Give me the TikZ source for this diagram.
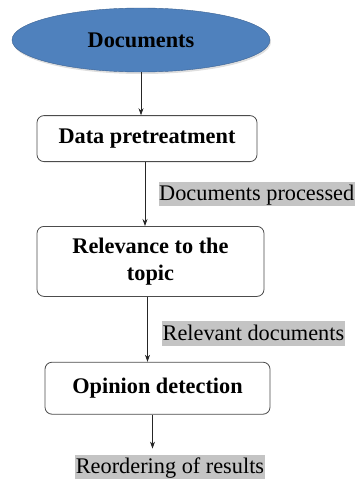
\documentclass[tikz,border=0pt]{standalone}
\usepackage{fontspec}
\setmainfont{Liberation Serif}
\usepackage{xcolor}
\usepackage{tikz}
\usetikzlibrary{positioning, calc, arrows.meta, shapes.geometric, shadows}
\definecolor{docBlue}{RGB}{79,129,189}
\definecolor{docEdge}{RGB}{60,98,146}
\definecolor{tagGray}{RGB}{196,196,196}
\newcommand{\flowsize}{\fontsize{22.3}{26.5}\selectfont}
\tikzset{
    startnode/.style={
        ellipse,
        draw=docEdge,
        fill=docBlue,
        minimum width=258pt,
        minimum height=64pt,
        font=\flowsize\rmfamily\bfseries,
        drop shadow={opacity=0.25, shadow xshift=1pt, shadow yshift=-2pt}
    },
    procnode/.style={
        rectangle,
        rounded corners=7pt,
        draw=black!70,
        line width=0.8pt,
        fill=white,
        font=\flowsize\rmfamily\bfseries,
        align=center,
        inner sep=2pt
    },
    flowtag/.style={
        fill=tagGray,
        font=\flowsize\rmfamily,
        inner xsep=0.5pt,
        inner ysep=0pt,
        text height=19pt,
        text depth=5.5pt
    },
    ptr/.style={
        -{Stealth[length=7pt, width=5pt]},
        draw=black!85,
        line width=0.7pt
    }
}

\begin{document}
\begin{tikzpicture}
    \useasboundingbox (0,0) rectangle (356pt,-479pt);
    \node[startnode] (docs) at (141pt,-40pt) {Documents};
    \node[procnode, below=43pt of docs, xshift=6pt, minimum width=220pt, minimum height=46pt] (prep) {Data pretreatment};
    \node[procnode, below=64pt of prep, xshift=3.5pt, minimum width=227pt, minimum height=70pt] (rel) {Relevance to the\\topic};
    \node[procnode, below=65pt of rel, xshift=7pt, minimum width=225pt, minimum height=52pt] (opin) {Opinion detection};
    \node[flowtag, below=40pt of opin, xshift=12.5pt] (reord) {Reordering of results};

    % fleches
    \draw[ptr] (docs.south) -- (docs.south |- prep.north);
    \draw[ptr] ([xshift=-2pt]prep.south) -- ([xshift=-2pt]prep.south |- rel.north);
    \draw[ptr] ([xshift=-3pt]rel.south) -- ([xshift=-3pt]rel.south |- opin.north);
    \draw[ptr, shorten >=6pt] ([xshift=-5pt]opin.south) -- ([xshift=-5pt]opin.south |- reord.north);

    % etiquettes
    \coordinate (m1) at ($([xshift=-2pt]prep.south)!0.5!([xshift=-2pt]prep.south |- rel.north)$);
    \coordinate (m2) at ($([xshift=-3pt]rel.south)!0.5!([xshift=-3pt]rel.south |- opin.north) + (0,-4pt)$);
    \node[flowtag, right=13.5pt of m1] (proc) {Documents processed};
    \node[flowtag, right=14.5pt of m2] (reldocs) {Relevant documents};
\end{tikzpicture}
\end{document}
